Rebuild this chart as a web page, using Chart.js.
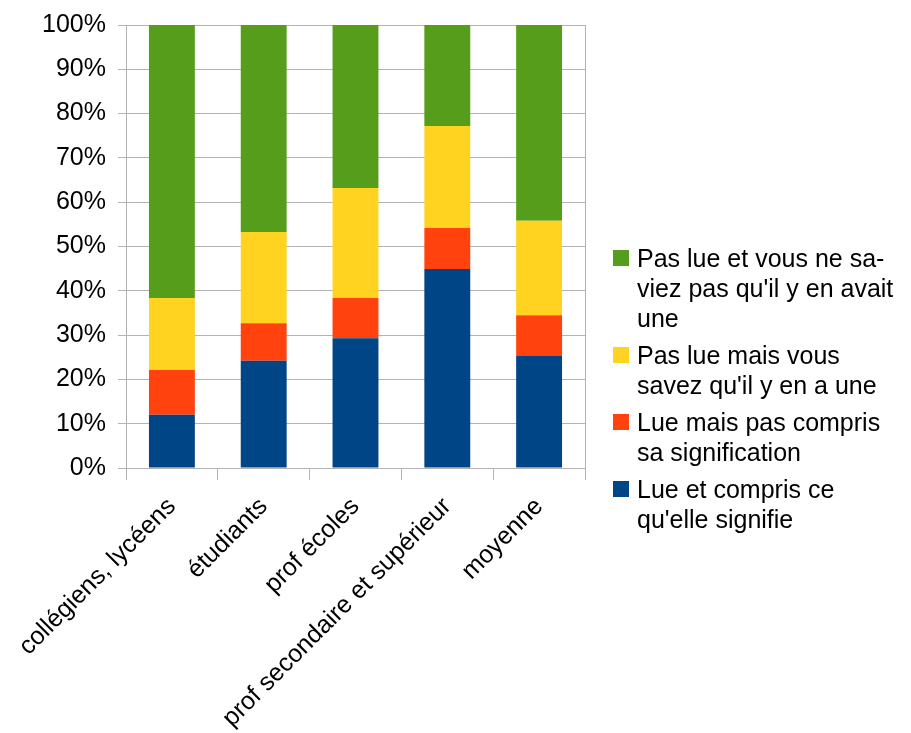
<!DOCTYPE html>
<html>
<head>
<meta charset="utf-8">
<script src="https://cdn.jsdelivr.net/npm/chart.js@4/dist/chart.umd.min.js"></script>
<style>
  html, body { margin: 0; padding: 0; background: #fff; }
  #wrap { position: relative; width: 911px; height: 733px; }
  #legende { position: absolute; left: 613px; top: 243px; font-family: "Liberation Sans", Arial, sans-serif; font-size: 25px; line-height: 30px; color: #000; white-space: nowrap; }
  .item { position: relative; padding-left: 24px; margin-bottom: 7px; }
  .carre { position: absolute; left: 0; top: 7px; width: 16px; height: 16px; }
</style>
</head>
<body>
<div id="wrap">
  <canvas id="graphique" width="911" height="733"></canvas>
  <div id="legende"></div>
</div>
<script>
// Données (en %)
const categories = ['collégiens, lycéens', 'étudiants', 'prof écoles', 'prof secondaire et supérieur', 'moyenne'];
const lueCompris = [12.0, 24.2, 29.3, 44.9, 25.3];
const luePasCompris = [10.1, 8.5, 9.1, 9.3, 9.2];
const pasLueSavez = [16.3, 20.6, 24.8, 23.0, 21.3];
const pasLueSaviezPas = [61.6, 46.7, 36.8, 22.8, 44.2];
const ticksY = [0, 10, 20, 30, 40, 50, 60, 70, 80, 90, 100];

// lignes de la légende (de haut en bas)
const legendeLignes = [
    ['Pas lue et vous ne sa-', "viez pas qu'il y en avait", 'une'],
    ['Pas lue mais vous', "savez qu'il y en a une"],
    ['Lue mais pas compris', 'sa signification'],
    ['Lue et compris ce', "qu'elle signifie"]
];

const couleurs = {
    bleu: '#004586',
    rouge: '#ff420e',
    jaune: '#ffd320',
    vert: '#579d1c'
};

const police = { family: '"Liberation Sans", Arial, sans-serif', size: 25 };

// Bordure droite de la zone de tracé
const bordureDroite = {
    id: 'bordureDroite',
    beforeDatasetsDraw(chart) {
        const { ctx, chartArea } = chart;
        ctx.save();
        ctx.strokeStyle = '#b3b3b3';
        ctx.lineWidth = 1;
        ctx.beginPath();
        ctx.moveTo(Math.round(chartArea.right) + 0.5, chartArea.top);
        ctx.lineTo(Math.round(chartArea.right) + 0.5, chartArea.bottom);
        ctx.stroke();
        ctx.restore();
    }
};

const ctx = document.getElementById('graphique').getContext('2d');
new Chart(ctx, {
    type: 'bar',
    data: {
        labels: categories,
        datasets: [
            { label: "Lue et compris ce qu'elle signifie", data: lueCompris, backgroundColor: couleurs.bleu },
            { label: 'Lue mais pas compris sa signification', data: luePasCompris, backgroundColor: couleurs.rouge },
            { label: "Pas lue mais vous savez qu'il y en a une", data: pasLueSavez, backgroundColor: couleurs.jaune },
            { label: "Pas lue et vous ne saviez pas qu'il y en avait une", data: pasLueSaviezPas, backgroundColor: couleurs.vert }
        ]
    },
    options: {
        responsive: false,
        animation: false,
        barPercentage: 0.5,
        categoryPercentage: 1.0,
        layout: { padding: { top: 25, right: 326, left: 0, bottom: 0 } },
        plugins: { legend: { display: false }, tooltip: { enabled: false } },
        scales: {
            x: {
                stacked: true,
                afterFit(scale) { scale.height = 265; scale.paddingLeft = 0; scale.paddingRight = 0; },
                grid: { offset: true, drawOnChartArea: false, color: '#b3b3b3', tickLength: 12 },
                border: { color: '#b3b3b3' },
                ticks: { color: '#000', font: police, minRotation: 45, maxRotation: 45, padding: 12 }
            },
            y: {
                stacked: true,
                min: 0,
                max: 100,
                afterFit(scale) { scale.width = 126; scale.paddingTop = 0; scale.paddingBottom = 0; },
                afterBuildTicks(scale) { scale.ticks = ticksY.map(v => ({ value: v })); },
                grid: { color: '#b3b3b3', tickLength: 8 },
                border: { color: '#b3b3b3' },
                ticks: { color: '#000', font: police, padding: 12, callback: v => v + '%' }
            }
        }
    },
    plugins: [bordureDroite]
});

// Légende HTML
const couleursLegende = [couleurs.vert, couleurs.jaune, couleurs.rouge, couleurs.bleu];
const legende = document.getElementById('legende');
legendeLignes.forEach((lignes, i) => {
    const item = document.createElement('div');
    item.className = 'item';
    const carre = document.createElement('span');
    carre.className = 'carre';
    carre.style.background = couleursLegende[i];
    item.appendChild(carre);
    lignes.forEach(l => {
        const d = document.createElement('div');
        d.textContent = l;
        item.appendChild(d);
    });
    legende.appendChild(item);
});
</script>
</body>
</html>
